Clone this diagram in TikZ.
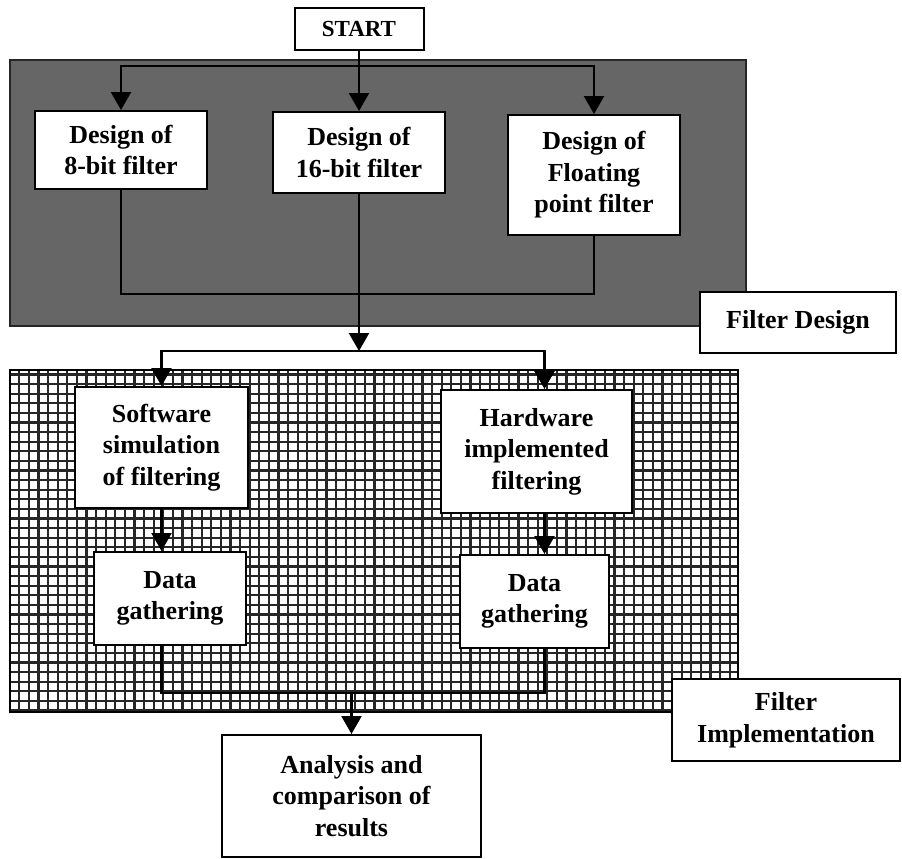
\documentclass[tikz,border=0pt]{standalone}
\usepackage{fontspec}
\setmainfont{Liberation Serif}
\usetikzlibrary{arrows.meta}
\definecolor{designshade}{HTML}{666666}
\definecolor{gridink}{HTML}{262626}

\begin{document}
\begin{tikzpicture}[
    x=.5pt,y=-.5pt,>=Triangle,
    stage/.style={draw=black,line width=1pt,fill=white,align=center,inner sep=2pt,
      font=\fontsize{13}{15.8}\selectfont\bfseries},
    link/.style={draw=black,line width=1.2pt},
    flow/.style={link,-{Triangle[length=9pt,width=10pt]}}
  ]
    \useasboundingbox (0,0) rectangle (902,859);

    % shaded design panel
    \fill[designshade,draw=black!85,line width=1pt] (10,60) rectangle (746,326);
    % gridded implementation panel
    \fill[white] (10,370) rectangle (738,712);
    \begin{scope}
      \clip (10,370) rectangle (738,712);
      \draw[gridink,line width=1.1pt,step=4.8pt] (0,360) grid (750,720);
    \end{scope}
    \draw[black,line width=1pt] (10,370) rectangle (738,712);

    \node[stage,minimum width=64.5pt,minimum height=21pt,
      font=\fontsize{11.5}{14}\selectfont\bfseries] (start) at (359,29) {START};

    \node[stage,minimum width=86pt,minimum height=39pt] (bit8) at (121,150) {Design of\\8-bit filter};
    \node[stage,minimum width=86pt,minimum height=40.5pt] (bit16) at (359,152.5) {Design of\\16-bit filter};
    \node[stage,minimum width=86pt,minimum height=60pt] (float) at (594,175) {Design of\\Floating\\point filter};
    \node[stage,minimum width=98pt,minimum height=30.5pt] (designlbl) at (798,322.5) {Filter Design};

    \node[stage,minimum width=86.5pt,minimum height=60.5pt] (software) at (161.5,447.5)
      {Software\\simulation\\of filtering};
    \node[stage,minimum width=95.5pt,minimum height=61.5pt] (hardware) at (536.5,451.5)
      {Hardware\\implemented\\filtering};
    \node[stage,minimum width=76pt,minimum height=46.5pt] (gatherSW) at (170,598.5) {Data\\gathering};
    \node[stage,minimum width=74.5pt,minimum height=46.5pt] (gatherHW) at (534.5,601.5) {Data\\gathering};
    \node[stage,minimum width=129.5pt,minimum height=61pt] (analysis) at (351.5,796)
      {Analysis and\\comparison of\\results};
    \node[stage,minimum width=114pt,minimum height=41pt] (impllbl) at (786,720) {Filter\\Implementation};

    \coordinate (fanout) at (359,66);
    \coordinate (fanin) at (359,294);
    \coordinate (split) at (359,351);
    \coordinate (merge) at (351.5,693);

    \draw[flow] (start.south) -- (bit16.north);
    \foreach \d in {bit8,float}
      \draw[flow] (fanout) -| (\d.north);
    \draw[link] (bit8.south) |- (fanin) -| (float.south);
    \draw[flow] (bit16.south) -- (split);
    \draw[flow] (split) -| (software.north);
    \draw[flow] (split) -| ([xshift=4pt]hardware.north);
    \draw[flow] (software.south) -- (software.south |- gatherSW.north);
    \draw[flow] ([xshift=4pt]hardware.south) -- ([xshift=4pt]hardware.south |- gatherHW.north);
    \draw[link] (gatherSW.south -| software.south) |- (merge) -| ([xshift=5pt]gatherHW.south);
    \draw[flow] (merge) -- (analysis.north);
  \end{tikzpicture}
\end{document}
